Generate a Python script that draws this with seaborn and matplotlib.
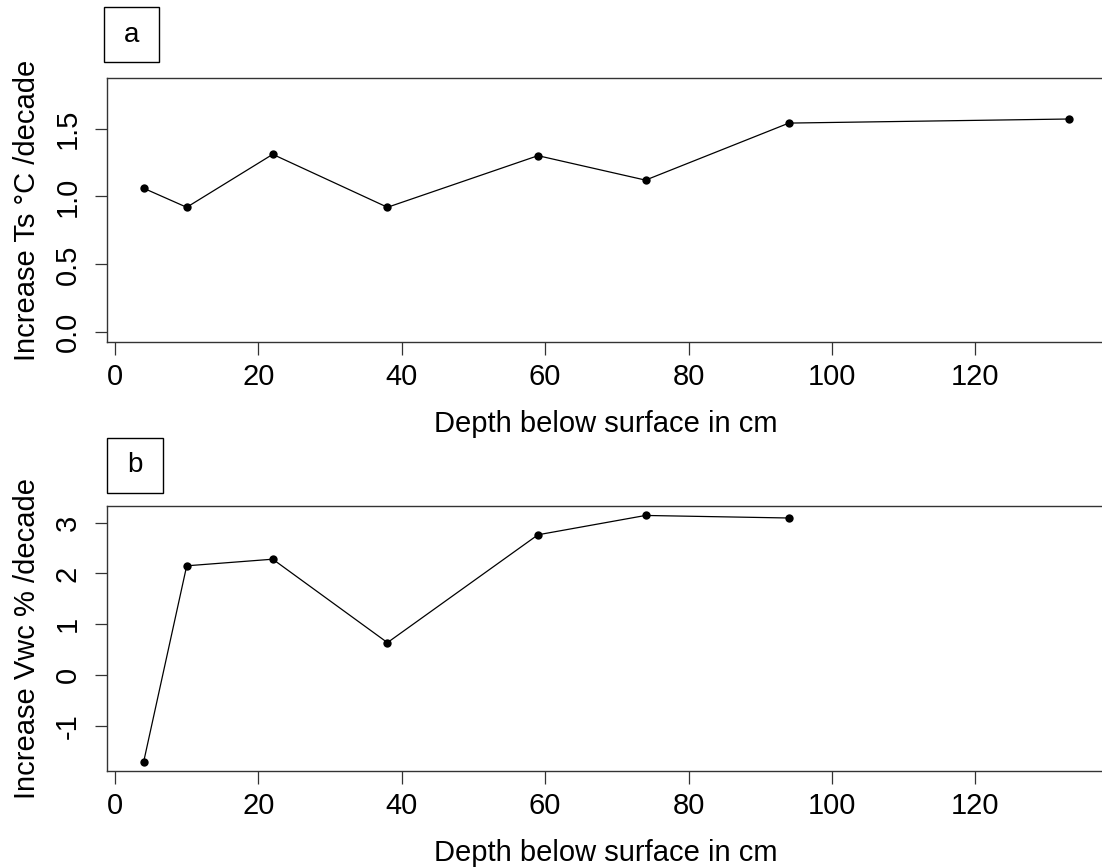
import numpy as np
import pandas as pd
import seaborn as sns
import matplotlib.pyplot as plt
from matplotlib.patches import Rectangle

sns.set_theme(style='white')
plt.rcParams['font.family'] = ['Liberation Sans', 'DejaVu Sans']
plt.rcParams['text.color'] = 'black'
plt.rcParams['axes.labelcolor'] = 'black'

# depth of each sensor (cm)
depth_ts = [4, 10, 22, 38, 59, 74, 94, 133]
ts_increase = [1.06, 0.92, 1.31, 0.92, 1.30, 1.12, 1.54, 1.57]

depth_vwc = [4, 10, 22, 38, 59, 74, 94]
vwc_increase = [-1.70, 2.15, 2.28, 0.64, 2.76, 3.14, 3.09]

ts = pd.DataFrame({'depth': depth_ts, 'value': ts_increase})
vwc = pd.DataFrame({'depth': depth_vwc, 'value': vwc_increase})

W, H = 1102, 868
fig = plt.figure(figsize=(W / 100, H / 100), dpi=100)


def px_axes(left, top, right, bottom):
    return fig.add_axes([left / W, 1 - bottom / H, (right - left) / W, (bottom - top) / H])


ax_a = px_axes(106.7, 78, 1105.5, 342)
ax_b = px_axes(106.7, 506.3, 1105.5, 771)


def style(ax, data, ylim, yticks, ylabel):
    sns.lineplot(data=data, x='depth', y='value', ax=ax, color='black', lw=0.9,
                 marker='o', markersize=6, markeredgewidth=0, markerfacecolor='black')
    ax.set_xlim(-1.16, 138.16)
    ax.set_ylim(*ylim)
    ax.set_xticks([0, 20, 40, 60, 80, 100, 120])
    ax.set_yticks(yticks)
    ax.set_yticklabels([str(t) for t in yticks], rotation=90, va='center')
    ax.tick_params(axis='both', direction='out', length=9, width=0.9, color='#333333',
                   labelsize=21, labelcolor='black', bottom=True, left=True)
    ax.tick_params(axis='x', pad=6)
    ax.tick_params(axis='y', pad=9)
    for s in ax.spines.values():
        s.set_color('#333333')
        s.set_linewidth(1.0)
    ax.set_xlabel('Depth below surface in cm', fontsize=21, labelpad=14)
    ax.set_ylabel(ylabel, fontsize=21, labelpad=9)


style(ax_a, ts, (-0.072, 1.872), [0.0, 0.5, 1.0, 1.5], 'Increase Ts °C /decade')
style(ax_b, vwc, (-1.884, 3.32), [-1, 0, 1, 2, 3], 'Increase Vwc % /decade')

# panel letters in boxes
for (l, t, r, b), letter in [((104, 7, 159, 62), 'a'), ((107, 438, 163, 493), 'b')]:
    fig.add_artist(Rectangle((l / W, 1 - b / H), (r - l) / W, (b - t) / H,
                             transform=fig.transFigure, fill=False, lw=1.0, ec='black'))
    fig.text((l + r) / 2 / W, 1 - (t + b) / 2 / H, letter, ha='center', va='center', fontsize=20)

fig.savefig('out.png', dpi=100)
